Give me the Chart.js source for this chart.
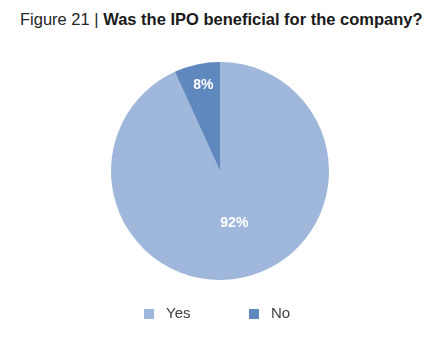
<!DOCTYPE html>
<html>
<head>
<meta charset="utf-8">
<script src="https://cdn.jsdelivr.net/npm/chart.js@4.4.0/dist/chart.umd.min.js"></script>
<style>
    body { margin: 0; background: #fff; font-family: "Liberation Sans", Arial, sans-serif; }
    #wrap { position: relative; width: 430px; height: 343px; overflow: hidden; }
    #title { position: absolute; left: 20px; top: 10px; font-size: 16.5px; color: #262626; white-space: nowrap; }
    #title b { color: #1a1a1a; }
    #chart { position: absolute; left: 0; top: 0; }
    #legend { position: absolute; top: 304px; left: 0; width: 430px; font-size: 15px; color: #404040; }
    .item { position: absolute; top: 0; line-height: 18px; }
    .box { display: inline-block; width: 10px; height: 10px; margin-right: 12px; vertical-align: -1px; }
</style>
</head>
<body>
<div id="wrap">
    <div id="title">Figure 21 | <b>Was the IPO beneficial for the company?</b></div>
    <canvas id="chart" width="430" height="343"></canvas>
    <div id="legend"></div>
</div>
<script>
const labels = ['Yes', 'No'];
// slice sizes (the "No" wedge is ~24-25 degrees)
const values = [93.2, 6.8];
// the percentages printed on the slices
const valueLabels = ['92%', '8%'];
const colors = ['#A0B7DC', '#5F88BE'];

// label placement: fraction of the radius, plus a small sideways nudge
const labelRadius = [0.49, 0.81];
const labelNudgeX = [3, 2];

const sliceLabels = {
    id: 'sliceLabels',
    afterDatasetsDraw(chart) {
        const ctx = chart.ctx;
        const meta = chart.getDatasetMeta(0);
        ctx.save();
        ctx.fillStyle = '#ffffff';
        ctx.font = 'bold 14px "Liberation Sans", Arial, sans-serif';
        ctx.textAlign = 'center';
        ctx.textBaseline = 'middle';
        meta.data.forEach((arc, i) => {
            const mid = (arc.startAngle + arc.endAngle) / 2;
            const r = arc.outerRadius * labelRadius[i];
            const x = arc.x + Math.cos(mid) * r + labelNudgeX[i];
            const y = arc.y + Math.sin(mid) * r;
            ctx.fillText(valueLabels[i], x, y);
        });
        ctx.restore();
    }
};

function buildLegend() {
    const legend = document.getElementById('legend');
    const lefts = [144, 249];
    labels.forEach((label, i) => {
        const item = document.createElement('div');
        item.className = 'item';
        item.style.left = lefts[i] + 'px';
        item.innerHTML = `<span class="box" style="background:${colors[i]}"></span>${label}`;
        legend.appendChild(item);
    });
}

new Chart(document.getElementById('chart'), {
    type: 'pie',
    data: {
        labels: labels,
        datasets: [{
            data: values,
            backgroundColor: colors,
            borderWidth: 0
        }]
    },
    options: {
        responsive: false,
        animation: false,
        layout: {
            padding: { left: 10, right: 0, top: 62, bottom: 63 }
        },
        plugins: {
            legend: { display: false },
            tooltip: { enabled: false }
        }
    },
    plugins: [sliceLabels]
});

buildLegend();
</script>
</body>
</html>
